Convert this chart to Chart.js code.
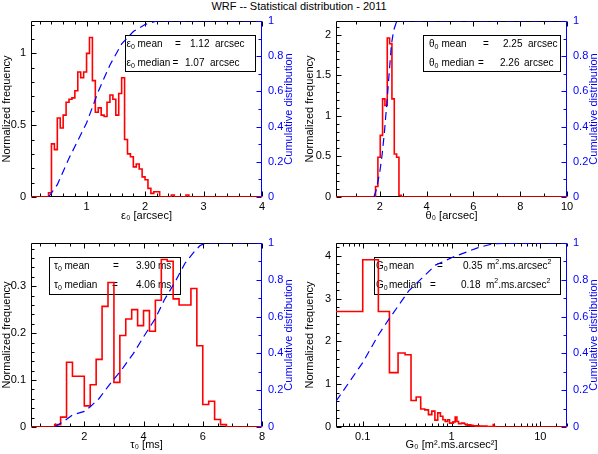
<!DOCTYPE html>
<html lang="en">
<head>
<meta charset="UTF-8">
<title>WRF -- Statistical distribution - 2011</title>
<script src="https://cdn.jsdelivr.net/npm/chart.js@4"></script>
<style>
  body { margin: 0; background: #fff; }
  #pagina { position: relative; width: 598px; height: 454px; }
  #pagina canvas { position: absolute; left: 0; top: 0; }
  #titulo {
    position: absolute; top: 0; left: 0; width: 598px;
    text-align: center; font: 11px "Liberation Sans", Arial, sans-serif; line-height: 12px;
  }
</style>
</head>
<body>
<div id="pagina">
  <div id="titulo">WRF -- Statistical distribution - 2011</div>
  <canvas id="cvEps" width="598" height="454"></canvas>
  <canvas id="cvTheta" width="598" height="454"></canvas>
  <canvas id="cvTau" width="598" height="454"></canvas>
  <canvas id="cvG" width="598" height="454"></canvas>
</div>

<script>
// epsilon_0 (seeing) - histograma com bins de 0.05 arcsec
const epsInicio = 0.35, epsLargura = 0.05;
const epsFreq = [0.03, 0.37, 0.33, 0.55, 0.48, 0.57, 0.66, 0.68, 0.69, 0.74,
                 0.87, 0.83, 0.87, 1.00, 1.11, 0.81, 0.59, 0.62, 0.57, 0.56,
                 0.66, 0.71, 0.68, 0.57, 0.72, 0.83, 0.40, 0.30, 0.28, 0.21,
                 0.23, 0.195, 0.14, 0.12, 0.06, 0.025, 0.037, 0.037, 0, 0,
                 0, 0, 0.014, 0, 0, 0, 0, 0.014];
const epsCumX = [0.35, 0.5, 0.7, 1.0, 1.2, 1.4, 1.6, 1.8, 2.0, 2.2, 4.0];
const epsCum  = [0, 0.07, 0.22, 0.42, 0.6, 0.75, 0.87, 0.94, 0.98, 1.0, 1.0];
const epsStats = ['1.12', '1.07'];

// theta_0 (angulo isoplanatico) - bins de 0.1 arcsec
const thetaInicio = 1.82, thetaLargura = 0.1;
const thetaFreq = [0.13, 0.49, 0.76, 1.21, 1.13, 1.96, 1.89, 1.21, 0.53, 0.49, 0.02];
const thetaCumX = [1.75, 1.85, 2.0, 2.1, 2.2, 2.3, 2.4, 2.5, 2.6, 2.7, 2.8, 10];
const thetaCum  = [0, 0.04, 0.14, 0.24, 0.37, 0.53, 0.7, 0.87, 0.95, 0.99, 1.0, 1.0];
const thetaStats = ['2.25', '2.26'];

// tau_0 (tempo de coerencia) - bins de 0.2 ms
const tauInicio = 1.0, tauLargura = 0.2;
const tauFreq = [0.005, 0.021, 0.138, 0.108, 0.108, 0.045, 0.09, 0.144, 0.257, 0.308,
                 0.095, 0.195, 0.23, 0.25, 0.216, 0.248, 0.204, 0.27, 0.357, 0.353,
                 0.273, 0.26, 0.26, 0.295, 0.173, 0.048, 0.055, 0.016, 0.005];
const tauCumX = [1.0, 1.3, 1.6, 2.0, 2.2, 2.5, 2.8, 3.0, 3.3, 3.66, 4.0, 4.4, 4.7, 5.07, 5.4, 5.7, 5.9, 6.1, 8];
const tauCum  = [0, 0.03, 0.065, 0.085, 0.11, 0.155, 0.22, 0.26, 0.32, 0.4, 0.49, 0.59, 0.69, 0.79, 0.89, 0.95, 0.985, 1.0, 1.0];
const tauStats = ['3.90', '4.06'];

// G_0 (coherence etendue) - bins de 0.05, eixo x logaritmico
const gInicio = 0.05, gLargura = 0.05;
const gFreq = [2.7, 3.91, 2.7, 1.27, 1.73, 1.69, 0.62, 0.70, 0.42, 0.40,
               0.29, 0.37, 0.16, 0.33, 0.25, 0.17, 0.13, 0.17, 0.09, 0.09,
               0.12, 0.23, 0.13, 0.08, 0.08, 0.09, 0.09, 0.07, 0.05, 0.05,
               0.04, 0.05, 0.03, 0.04, 0.03, 0.03, 0.02, 0.03, 0.02, 0.03,
               0.02, 0.02, 0.01, 0.02, 0.01, 0.02, 0.01, 0.01, 0.02, 0.01,
               0.01, 0, 0.01, 0.01, 0, 0.01, 0, 0, 0.06, 0.01, 0.01];
const gCumX = [0.05, 0.1, 0.15, 0.2, 0.33, 0.66, 1.0, 2.0, 3.0, 20];
const gCum  = [0.14, 0.35, 0.5, 0.59, 0.74, 0.88, 0.92, 0.975, 0.997, 1.0];
const gStats = ['0.35', '0.18'];

const FONTE = '"Liberation Sans", Arial, Helvetica, sans-serif';
const VERMELHO = '#ff0000';
const AZUL = '#0000ff';

Chart.defaults.font.family = FONTE;
Chart.defaults.font.size = 11;
Chart.defaults.color = '#000';

// pontos do histograma em degraus (borda esquerda de cada bin)
function histPontos(inicio, largura, freq, xmin, xmax) {
  const pts = [];
  if (xmin < inicio) pts.push({x: xmin, y: 0});
  freq.forEach((f, i) => pts.push({x: +(inicio + i * largura).toFixed(4), y: f}));
  pts.push({x: +(inicio + freq.length * largura).toFixed(4), y: 0});
  pts.push({x: xmax, y: 0});
  return pts;
}

function pares(xs, ys) {
  return xs.map((x, i) => ({x: x, y: ys[i]}));
}

function multiplo(v, passo) {
  const r = v / passo;
  return Math.abs(r - Math.round(r)) < 1e-6;
}

function fmt(v) {
  return String(+v.toFixed(3));
}

// texto com indices / expoentes
function rico(ctx, x, y, partes) {
  partes.forEach(p => {
    const txt = p[0], tipo = p[1];
    const pequeno = tipo === 'sub' || tipo === 'sup';
    ctx.font = (pequeno ? '7px ' : '10px ') + FONTE;
    const dy = tipo === 'sub' ? 3 : (tipo === 'sup' ? -4 : 0);
    ctx.fillText(txt, x, y + dy);
    x += ctx.measureText(txt).width;
  });
}

function marcas(ctx, escala, a, lado) {
  ctx.beginPath();
  escala.ticks.forEach(t => {
    const len = t.label !== '' ? 5 : 3;
    const p = Math.round(escala.getPixelForValue(t.value)) + 0.5;
    if (lado === 'baixo') { ctx.moveTo(p, a.bottom); ctx.lineTo(p, a.bottom - len); }
    if (lado === 'cima') { ctx.moveTo(p, a.top); ctx.lineTo(p, a.top + len); }
    if (lado === 'esq') { ctx.moveTo(a.left, p); ctx.lineTo(a.left + len, p); }
    if (lado === 'dir') { ctx.moveTo(a.right, p); ctx.lineTo(a.right - len, p); }
  });
  ctx.stroke();
}

const painel = {
  id: 'painel',
  beforeDatasetsDraw(chart, args, o) {
    const ctx = chart.ctx;
    const c = chart.chartArea;
    const a = {
      left: Math.floor(c.left) + 0.5, right: Math.floor(c.right) - 0.5,
      top: Math.floor(c.top) + 0.5, bottom: Math.floor(c.bottom) - 0.5
    };
    ctx.save();
    ctx.lineWidth = 1;

    // moldura
    ctx.strokeStyle = '#000';
    ctx.beginPath();
    ctx.moveTo(a.right, a.top); ctx.lineTo(a.left, a.top);
    ctx.lineTo(a.left, a.bottom); ctx.lineTo(a.right, a.bottom);
    ctx.stroke();
    marcas(ctx, chart.scales.x, a, 'baixo');
    marcas(ctx, chart.scales.x, a, 'cima');
    marcas(ctx, chart.scales.y, a, 'esq');

    ctx.strokeStyle = AZUL;
    ctx.beginPath();
    ctx.moveTo(a.right, a.top); ctx.lineTo(a.right, a.bottom);
    ctx.stroke();
    marcas(ctx, chart.scales.y2, a, 'dir');

    // titulo do eixo da direita (lido de baixo para cima)
    ctx.fillStyle = AZUL;
    ctx.font = '11px ' + FONTE;
    ctx.textAlign = 'center';
    ctx.textBaseline = 'middle';
    ctx.translate(o.tituloDirX, (c.top + c.bottom) / 2);
    ctx.rotate(-Math.PI / 2);
    ctx.fillText('Cumulative distribution', 0, 0);
    ctx.setTransform(1, 0, 0, 1, 0, 0);

    // caixa com media e mediana
    const b = o.caixa;
    ctx.strokeStyle = '#000';
    ctx.strokeRect(b.x0 + 0.5, b.y0 + 0.5, b.x1 - b.x0, b.y1 - b.y0);
    ctx.fillStyle = '#000';
    ctx.textAlign = 'left';
    ['mean', 'median'].forEach((nome, i) => {
      const l = b.linhas[i];
      rico(ctx, l.xs[0], l.y, [[o.simbolo, ''], ['0', 'sub']]);
      rico(ctx, l.xs[1], l.y, [[nome, '']]);
      rico(ctx, l.xs[2], l.y, [['=', '']]);
      rico(ctx, l.xs[3], l.y, [[o.stats[i], '']]);
      rico(ctx, l.xs[4], l.y, o.unidade);
    });
    ctx.restore();
  }
};

function desenhar(id, o) {
  const logX = o.x.tipo === 'logarithmic';
  new Chart(document.getElementById(id), {
    type: 'line',
    data: {
      datasets: [{
        data: o.cum,
        yAxisID: 'y2',
        borderColor: AZUL,
        borderWidth: 1.2,
        borderDash: [8, 5],
        pointRadius: 0,
        tension: 0
      }, {
        data: o.hist,
        yAxisID: 'y',
        borderColor: VERMELHO,
        borderWidth: 1.6,
        stepped: 'before',
        pointRadius: 0
      }]
    },
    options: {
      responsive: false,
      animation: false,
      events: [],
      layout: { padding: o.pad },
      plugins: {
        legend: { display: false },
        tooltip: { enabled: false },
        painel: o.painel
      },
      scales: {
        x: {
          type: o.x.tipo,
          min: o.x.min,
          max: o.x.max,
          grid: { display: false, drawTicks: false },
          border: { display: false },
          ticks: {
            stepSize: logX ? undefined : o.x.passo,
            includeBounds: false,
            autoSkip: false,
            maxRotation: 0,
            padding: 3,
            callback: v => {
              if (logX) {
                const l = Math.log10(v);
                return Math.abs(l - Math.round(l)) < 1e-6 ? fmt(v) : '';
              }
              return multiplo(v, o.x.maior) ? fmt(v) : '';
            }
          },
          title: { display: true, text: o.x.titulo, padding: { top: 0, bottom: o.tamanhos.xTitPad } },
          afterFit: s => { s.height = o.tamanhos.xH; }
        },
        y: {
          position: 'left',
          min: 0,
          max: o.y.max,
          grid: { display: false, drawTicks: false },
          border: { display: false },
          ticks: {
            stepSize: o.y.passo,
            includeBounds: false,
            autoSkip: false,
            padding: 5,
            callback: v => multiplo(v, o.y.maior) ? fmt(v) : ''
          },
          title: { display: true, text: 'Normalized frequency', padding: { top: 0, bottom: 0 } },
          afterFit: s => { s.width = o.tamanhos.yW; }
        },
        y2: {
          position: 'right',
          min: 0,
          max: 1,
          grid: { display: false, drawTicks: false },
          border: { display: false },
          ticks: {
            color: AZUL,
            stepSize: 0.1,
            includeBounds: false,
            autoSkip: false,
            padding: 6,
            callback: v => multiplo(v, 0.2) ? fmt(v) : ''
          },
          afterFit: s => { s.width = o.tamanhos.y2W; }
        }
      }
    },
    plugins: [painel]
  });
}

const cima = { xH: 29, xTitPad: 3.4 };
const baixo = { xH: 27, xTitPad: 2.4 };

desenhar('cvEps', {
  hist: histPontos(epsInicio, epsLargura, epsFreq, 0.05, 4),
  cum: pares(epsCumX, epsCum),
  x: { tipo: 'linear', min: 0.05, max: 4, passo: 0.2, maior: 1, titulo: 'ε₀ [arcsec]' },
  y: { max: 1.225, passo: 0.1, maior: 0.5 },
  pad: { left: 0, right: 299, top: 21, bottom: 228 },
  tamanhos: Object.assign({ yW: 31, y2W: 37 }, cima),
  painel: {
    tituloDirX: 289, simbolo: 'ε', stats: epsStats, unidade: [['arcsec', '']],
    caixa: { x0: 125, y0: 35, x1: 255, y1: 71,
      linhas: [{ y: 44.5, xs: [126.5, 137.5, 175, 190, 215] },
               { y: 63.5, xs: [126.5, 137.5, 172.5, 185, 210] }] }
  }
});

desenhar('cvTheta', {
  hist: histPontos(thetaInicio, thetaLargura, thetaFreq, 0.13, 10),
  cum: pares(thetaCumX, thetaCum),
  x: { tipo: 'linear', min: 0.13, max: 10, passo: 1, maior: 2, titulo: 'θ₀ [arcsec]' },
  y: { max: 2.17, passo: 0.1, maior: 0.5 },
  pad: { left: 303, right: 0, top: 21, bottom: 228 },
  tamanhos: Object.assign({ yW: 33, y2W: 31 }, cima),
  painel: {
    tituloDirX: 594, simbolo: 'θ', stats: thetaStats, unidade: [['arcsec', '']],
    caixa: { x0: 423, y0: 35, x1: 560, y1: 71,
      linhas: [{ y: 44.5, xs: [429, 441.5, 483, 503, 528] },
               { y: 63.5, xs: [429, 441.5, 478, 500, 524] }] }
  }
});

desenhar('cvTau', {
  hist: histPontos(tauInicio, tauLargura, tauFreq, 0.2, 8),
  cum: pares(tauCumX, tauCum),
  x: { tipo: 'linear', min: 0.2, max: 8, passo: 0.5, maior: 2, titulo: 'τ₀ [ms]' },
  y: { max: 0.392, passo: 0.02, maior: 0.1 },
  pad: { left: 0, right: 299, top: 243, bottom: 0 },
  tamanhos: Object.assign({ yW: 31, y2W: 37 }, baixo),
  painel: {
    tituloDirX: 289, simbolo: 'τ', stats: tauStats, unidade: [['ms', '']],
    caixa: { x0: 49, y0: 257, x1: 180, y1: 294,
      linhas: [{ y: 266, xs: [54, 64.5, 113, 136, 158] },
               { y: 285, xs: [54, 64.5, 112, 136, 158] }] }
  }
});

desenhar('cvG', {
  hist: histPontos(gInicio, gLargura, gFreq, 0.05, 20),
  cum: pares(gCumX, gCum),
  x: { tipo: 'logarithmic', min: 0.05, max: 20, titulo: 'G₀ [m².ms.arcsec²]' },
  y: { max: 4.3, passo: 0.2, maior: 1 },
  pad: { left: 303, right: 0, top: 243, bottom: 0 },
  tamanhos: Object.assign({ yW: 33, y2W: 31 }, baixo),
  painel: {
    tituloDirX: 594, simbolo: 'G', stats: gStats,
    unidade: [['m', ''], ['2', 'sup'], ['.ms.arcsec', ''], ['2', 'sup']],
    caixa: { x0: 374, y0: 257, x1: 560, y1: 294,
      linhas: [{ y: 266.5, xs: [376, 389, 437, 463, 487] },
               { y: 285.5, xs: [376, 389, 430, 461, 486] }] }
  }
});
</script>
</body>
</html>
